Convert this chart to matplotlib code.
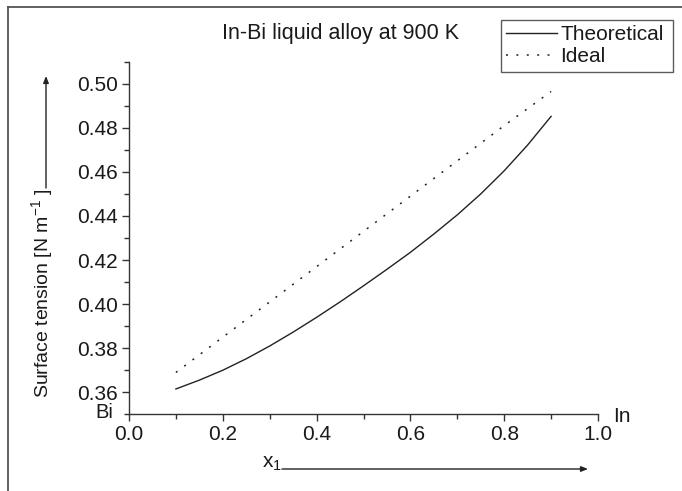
import matplotlib
matplotlib.use("Agg")
import matplotlib.pyplot as plt
from matplotlib.lines import Line2D
from matplotlib.patches import FancyArrowPatch
from matplotlib.ticker import MultipleLocator, FormatStrFormatter

plt.rcParams["font.family"] = ["Liberation Sans", "DejaVu Sans"]

# Composition of In (mole fraction) and surface tension values
x_theor = [0.10, 0.15, 0.20, 0.25, 0.30, 0.35, 0.40, 0.45, 0.50,
           0.55, 0.60, 0.65, 0.70, 0.75, 0.80, 0.85, 0.90]
sigma_theor = [0.3615, 0.3655, 0.3700, 0.3752, 0.3810, 0.3873, 0.3940, 0.4010, 0.4083,
               0.4158, 0.4235, 0.4318, 0.4405, 0.4500, 0.4605, 0.4722, 0.4852]
x_ideal = [0.1, 0.2, 0.3, 0.4, 0.5, 0.6, 0.7, 0.8, 0.9]
sigma_ideal = [0.369, 0.385, 0.401, 0.417, 0.433, 0.449, 0.465, 0.481, 0.4965]

y_ticks = [0.36, 0.38, 0.40, 0.42, 0.44, 0.46, 0.48, 0.50]
title = "In-Bi liquid alloy at 900 K"
series_labels = ["Theoretical", "Ideal"]

W, H = 682, 491
fig = plt.figure(figsize=(W / 100, H / 100), dpi=100)

def fx(px):
    return px / W

def fy(py):
    return 1 - py / H

ax = fig.add_axes([fx(129), fy(414.3), fx(598) - fx(129), fy(61.7) - fy(414.3)])

ink = "#222222"
ax.plot(x_theor, sigma_theor, color=ink, lw=1.0, label=series_labels[0])
ax.plot(x_ideal, sigma_ideal, color=ink, lw=1.1, linestyle=(0, (1.3, 5.5)),
        label=series_labels[1])

ax.set_xlim(0, 1.0)
ax.set_ylim(0.35, 0.51)
ax.xaxis.set_major_locator(MultipleLocator(0.2))
ax.xaxis.set_minor_locator(MultipleLocator(0.1))
ax.yaxis.set_minor_locator(MultipleLocator(0.01))
ax.set_yticks(y_ticks)
ax.xaxis.set_major_formatter(FormatStrFormatter("%.1f"))
ax.yaxis.set_major_formatter(FormatStrFormatter("%.2f"))

for s in ("top", "right"):
    ax.spines[s].set_visible(False)
for s in ("left", "bottom"):
    ax.spines[s].set_color("#333333")
    ax.spines[s].set_linewidth(1.0)

ax.tick_params(which="major", direction="out", length=5, width=1.0,
               color="#333333", labelsize=15, labelcolor="#1a1a1a", pad=3)
ax.tick_params(which="minor", direction="out", length=3.5, width=1.0, color="#333333")

# end-member labels
fig.text(fx(113), fy(413), "Bi", ha="right", va="center", fontsize=14.5, color="#1a1a1a")
fig.text(fx(613), fy(416), "In", ha="left", va="center", fontsize=15, color="#1a1a1a")

# title
fig.text(0.5, fy(33), title, ha="center", va="center", fontsize=15.5, color="#1a1a1a")

# y label with upward arrow
fig.text(fx(43), fy(293), r"Surface tension [N m$^{\mathregular{-1}}$ ]", rotation=90,
         ha="center", va="center", fontsize=14, color="#1a1a1a")
fig.add_artist(FancyArrowPatch(
    (fx(46), fy(188)), (fx(46), fy(76)), transform=fig.transFigure,
    arrowstyle="-|>,head_length=4,head_width=1.6", color="#222222", lw=1.0,
    shrinkA=0, shrinkB=0))

# x label with rightward arrow
fig.text(fx(262), fy(468), r"$\mathregular{x_1}$", ha="left", va="baseline",
         fontsize=15, color="#1a1a1a")
fig.add_artist(FancyArrowPatch(
    (fx(282), fy(469)), (fx(588), fy(469)), transform=fig.transFigure,
    arrowstyle="-|>,head_length=4,head_width=1.6", color="#222222", lw=1.0,
    shrinkA=0, shrinkB=0))

# legend box spanning a fixed width, entries left-aligned
leg_x0, leg_x1, leg_top = 501, 673, 20
leg = fig.legend(loc="upper left",
                 bbox_to_anchor=(fx(leg_x0), fy(leg_top) - 0.2, fx(leg_x1) - fx(leg_x0), 0.2),
                 bbox_transform=fig.transFigure, mode="expand", fontsize=15,
                 frameon=True, fancybox=False, handlelength=2.45, handletextpad=0.15,
                 borderpad=0.25, labelspacing=0.15, borderaxespad=0)
leg.get_frame().set_edgecolor("#333333")
leg.get_frame().set_linewidth(1.0)
for t in leg.get_texts():
    t.set_color("#1a1a1a")

# page frame on the left and top edges
fig.add_artist(Line2D([fx(8), fx(8)], [fy(7), 0], transform=fig.transFigure,
                      color="#555555", lw=1.3))
fig.add_artist(Line2D([fx(8), 1], [fy(7), fy(7)], transform=fig.transFigure,
                      color="#555555", lw=1.3))

fig.savefig("out.png", dpi=100)
